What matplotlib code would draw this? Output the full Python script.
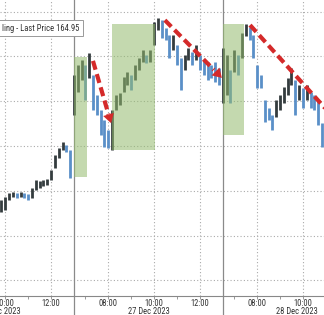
import matplotlib
matplotlib.use('Agg')
import matplotlib.pyplot as plt
import matplotlib.transforms as mtransforms
from matplotlib import font_manager
import numpy as np

# 10-minute bars, US session 06:30-13:00 (local time)
day_labels = ['26 Dec 2023', '27 Dec 2023', '28 Dec 2023']
first_bar = [9 + 50 / 60, 6.5, 6.5]   # clock time of first bar per day

highs_d1 = [163.79, 163.86, 163.95, 163.97, 163.95, 163.97, 163.95, 163.93, 164.06, 164.24,
            164.22, 164.24, 164.26, 164.46, 164.80, 164.95, 165.09, 165.02, 164.91]
lows_d1 = [163.53, 163.57, 163.79, 163.86, 163.84, 163.86, 163.84, 163.79, 163.84, 164.02,
           164.06, 164.11, 164.13, 164.24, 164.51, 164.73, 164.91, 164.87, 164.29]

highs_d2 = [166.58, 166.81, 166.92, 166.81, 167.08, 166.58, 166.14, 165.80, 165.58, 165.36,
            165.80, 166.14, 166.18, 166.54, 166.65, 166.58, 166.81, 166.96, 167.14, 167.03,
            167.14, 167.77, 167.86, 167.81, 167.63, 167.48, 167.48, 167.25, 166.96, 167.03,
            167.19, 167.10, 167.25, 167.03, 166.92, 166.87, 166.81, 166.87, 166.74]
lows_d2 = [165.69, 166.21, 166.47, 166.03, 166.52, 165.80, 165.69, 165.25, 164.98, 164.95,
           164.91, 165.80, 165.92, 166.21, 166.36, 166.25, 166.47, 166.70, 166.87, 166.85,
           166.87, 167.25, 167.59, 167.41, 167.37, 166.96, 167.14, 166.81, 166.25, 166.70,
           166.92, 166.81, 166.92, 166.70, 166.58, 166.47, 166.52, 166.43, 166.36]

highs_d3 = [167.19, 167.03, 166.70, 167.14, 167.03, 167.52, 167.72, 167.66, 167.48, 166.81,
            166.58, 166.03, 165.85, 165.69, 166.03, 166.14, 166.32, 166.52, 166.74, 166.47,
            166.36, 166.30, 166.36, 166.21, 166.14, 166.03, 165.51]
lows_d3 = [165.96, 166.14, 165.96, 166.65, 166.58, 166.96, 167.46, 167.37, 166.96, 166.30,
           166.30, 165.54, 165.58, 165.36, 165.65, 165.80, 165.96, 166.14, 166.36, 165.69,
           166.03, 165.85, 166.03, 165.85, 165.80, 165.47, 164.98]

last_price = 164.95

tick_pos = [-3, -1, 1.5, 3.5, 5.5, 8, 10]
tick_labels = ['10:00', '12:00', '08:00', '10:00', '12:00', '08:00', '10:00']
minor_pos = [-2, 0.5, 2.5, 4.5, 7, 9]
session_breaks = [0, 6.5]

# narrow font if there is one, else Liberation Sans (Arial widths)
font = 'Liberation Sans'
scale = 1.0
for name in ['Liberation Sans Narrow', 'DejaVu Sans Condensed', 'Roboto Condensed', 'Arial Narrow']:
    try:
        font_manager.findfont(font_manager.FontProperties(family=name), fallback_to_default=False)
        font = name
        scale = 1.18
        break
    except ValueError:
        pass
plt.rcParams['font.family'] = [font, 'DejaVu Sans']

fig = plt.figure(figsize=(3.24, 3.15), dpi=100)
ax = fig.add_axes([0, 19 / 315, 1, 296 / 315])

# bars, x = trading hours from the 27 Dec open (sessions joined)
highs = [highs_d1, highs_d2, highs_d3]
lows = [lows_d1, lows_d2, lows_d3]
t_all, h_all, l_all = [], [], []
for d in range(3):
    n = len(highs[d])
    t = first_bar[d] + np.arange(n) / 6 - 13 + 6.5 * d
    t_all.append(t)
    h_all += highs[d]
    l_all += lows[d]
t_all = np.concatenate(t_all)
h_all = np.array(h_all)
l_all = np.array(l_all)
mid = (h_all + l_all) / 2
up = np.r_[True, mid[1:] >= mid[:-1]]
colors = np.where(up, '#343c3e', '#5a8fc8')
ax.vlines(t_all, l_all, h_all, colors=colors, linewidth=2.0, zorder=3)

# green shaded windows
green = '#94bb6e'
for x0, x1, y0, y1 in [(0.0, 0.57, 164.31, 166.99), (1.66, 3.54, 164.91, 167.72),
                       (6.5, 7.42, 165.25, 167.72)]:
    ax.add_patch(plt.Rectangle((x0, y0), x1 - x0, y1 - y0, facecolor=green,
                               alpha=0.55, edgecolor='none', zorder=4))

# red dashed arrows
red = '#d42a2a'
for (x0, y0), (x1, y1), head in [((0.83, 166.90), (1.62, 165.51), True),
                                 ((3.97, 167.81), (6.46, 166.52), True),
                                 ((7.69, 167.70), (11.4, 165.60), False)]:
    frac = 0.86 if head else 1.0
    ax.plot([x0, x0 + (x1 - x0) * frac], [y0, y0 + (y1 - y0) * frac], color=red,
            lw=3, ls=(0, (2.2, 1.1)), solid_capstyle='butt', dash_capstyle='butt', zorder=5)
    if head:
        ax.annotate('', xy=(x1, y1), xytext=(x0 + (x1 - x0) * 0.8, y0 + (y1 - y0) * 0.8),
                    arrowprops=dict(arrowstyle='-|>,head_width=0.4,head_length=0.65',
                                    color=red, lw=0, shrinkA=0, shrinkB=0), zorder=5)

ax.set_xlim(-3.23, 10.92)
ax.set_ylim(161.65, 168.26)

ax.set_yticks(np.arange(162, 169))
ax.tick_params(axis='y', left=False, labelleft=False)
ax.set_xticks(tick_pos)
ax.set_xticklabels(tick_labels)
ax.set_xticks(minor_pos, minor=True)
ax.tick_params(axis='x', which='both', length=2, width=0.6, color='#888888',
               labelsize=5.2 * scale, pad=0.2, labelcolor='#333333')
ax.grid(True, which='major', color='#aaaaaa', ls=(0, (1, 2)), lw=0.8)
for s in ['top', 'left', 'right']:
    ax.spines[s].set_visible(False)
ax.spines['bottom'].set_color('#888888')
ax.spines['bottom'].set_linewidth(0.8)

trans = mtransforms.blended_transform_factory(ax.transData, ax.transAxes)
for b in session_breaks:
    ax.plot([b, b], [-0.08, 1], transform=trans, color='#8a8a8a', lw=0.9,
            clip_on=False, zorder=2)
for d in range(3):
    ax.text(-3.25 + 6.5 * d, -0.051, day_labels[d], transform=trans, ha='center',
            va='center', fontsize=5.2 * scale, color='#333333')

fig.text(0.006, 0.911, 'ling - Last Price %.2f' % last_price, fontsize=5.3 * scale,
         color='#333333', va='center', ha='left',
         bbox=dict(boxstyle='square,pad=0.4', facecolor='white', edgecolor='#999999', lw=0.7))

fig.savefig('out.png', dpi=100)
